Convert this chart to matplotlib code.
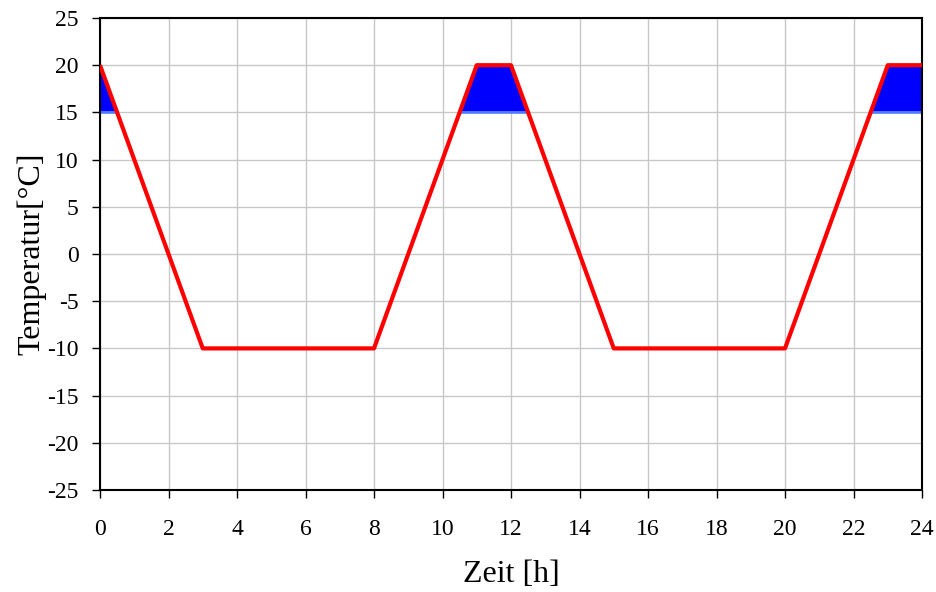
import numpy as np
import matplotlib
matplotlib.use("Agg")
import matplotlib.pyplot as plt

# Temperature profile over one day
zeit = [0, 3, 8, 11, 12, 15, 20, 23, 24]
temperatur = [20, -10, -10, 20, 20, -10, -10, 20, 20]
schwelle = 15

x_ticks = list(range(0, 25, 2))
y_ticks = list(range(-25, 26, 5))

plt.rcParams['font.family'] = ['Liberation Serif', 'DejaVu Serif']
plt.rcParams['axes.unicode_minus'] = False

fig = plt.figure(figsize=(9.36, 5.92), dpi=100)
ax = fig.add_axes([100/936, 1 - 490/592, 822/936, 472/592])

# dense sampling so the fill follows the line exactly above the threshold
xs = np.linspace(zeit[0], zeit[-1], 4801)
ys = np.interp(xs, zeit, temperatur)
mask = ys >= schwelle
ax.fill_between(xs, schwelle, ys, where=mask, color='#0000ff', linewidth=0, zorder=2)
ax.plot(xs, np.where(mask, schwelle, np.nan), color='#4a7cff', lw=2, zorder=2.5)

ax.plot(zeit, temperatur, color='#ff0000', lw=3, zorder=3, solid_capstyle='butt')

ax.set_xlim(0, 24)
ax.set_ylim(-25, 25)
ax.set_xticks(x_ticks)
ax.set_yticks(y_ticks)
ax.grid(True, color='#c8c8c8', lw=1)
ax.set_axisbelow(True)
for s in ax.spines.values():
    s.set_color('black')
    s.set_linewidth(1.5)
ax.tick_params(direction='out', length=6, width=1, labelsize=17)
ax.tick_params(axis='x', pad=15)
ax.tick_params(axis='y', pad=9.5)

ax.set_xlabel('Zeit [h]', fontsize=23, labelpad=14)
ax.set_ylabel('Temperatur[°C]', fontsize=23, labelpad=0.5)

fig.savefig('out.png', dpi=100)
